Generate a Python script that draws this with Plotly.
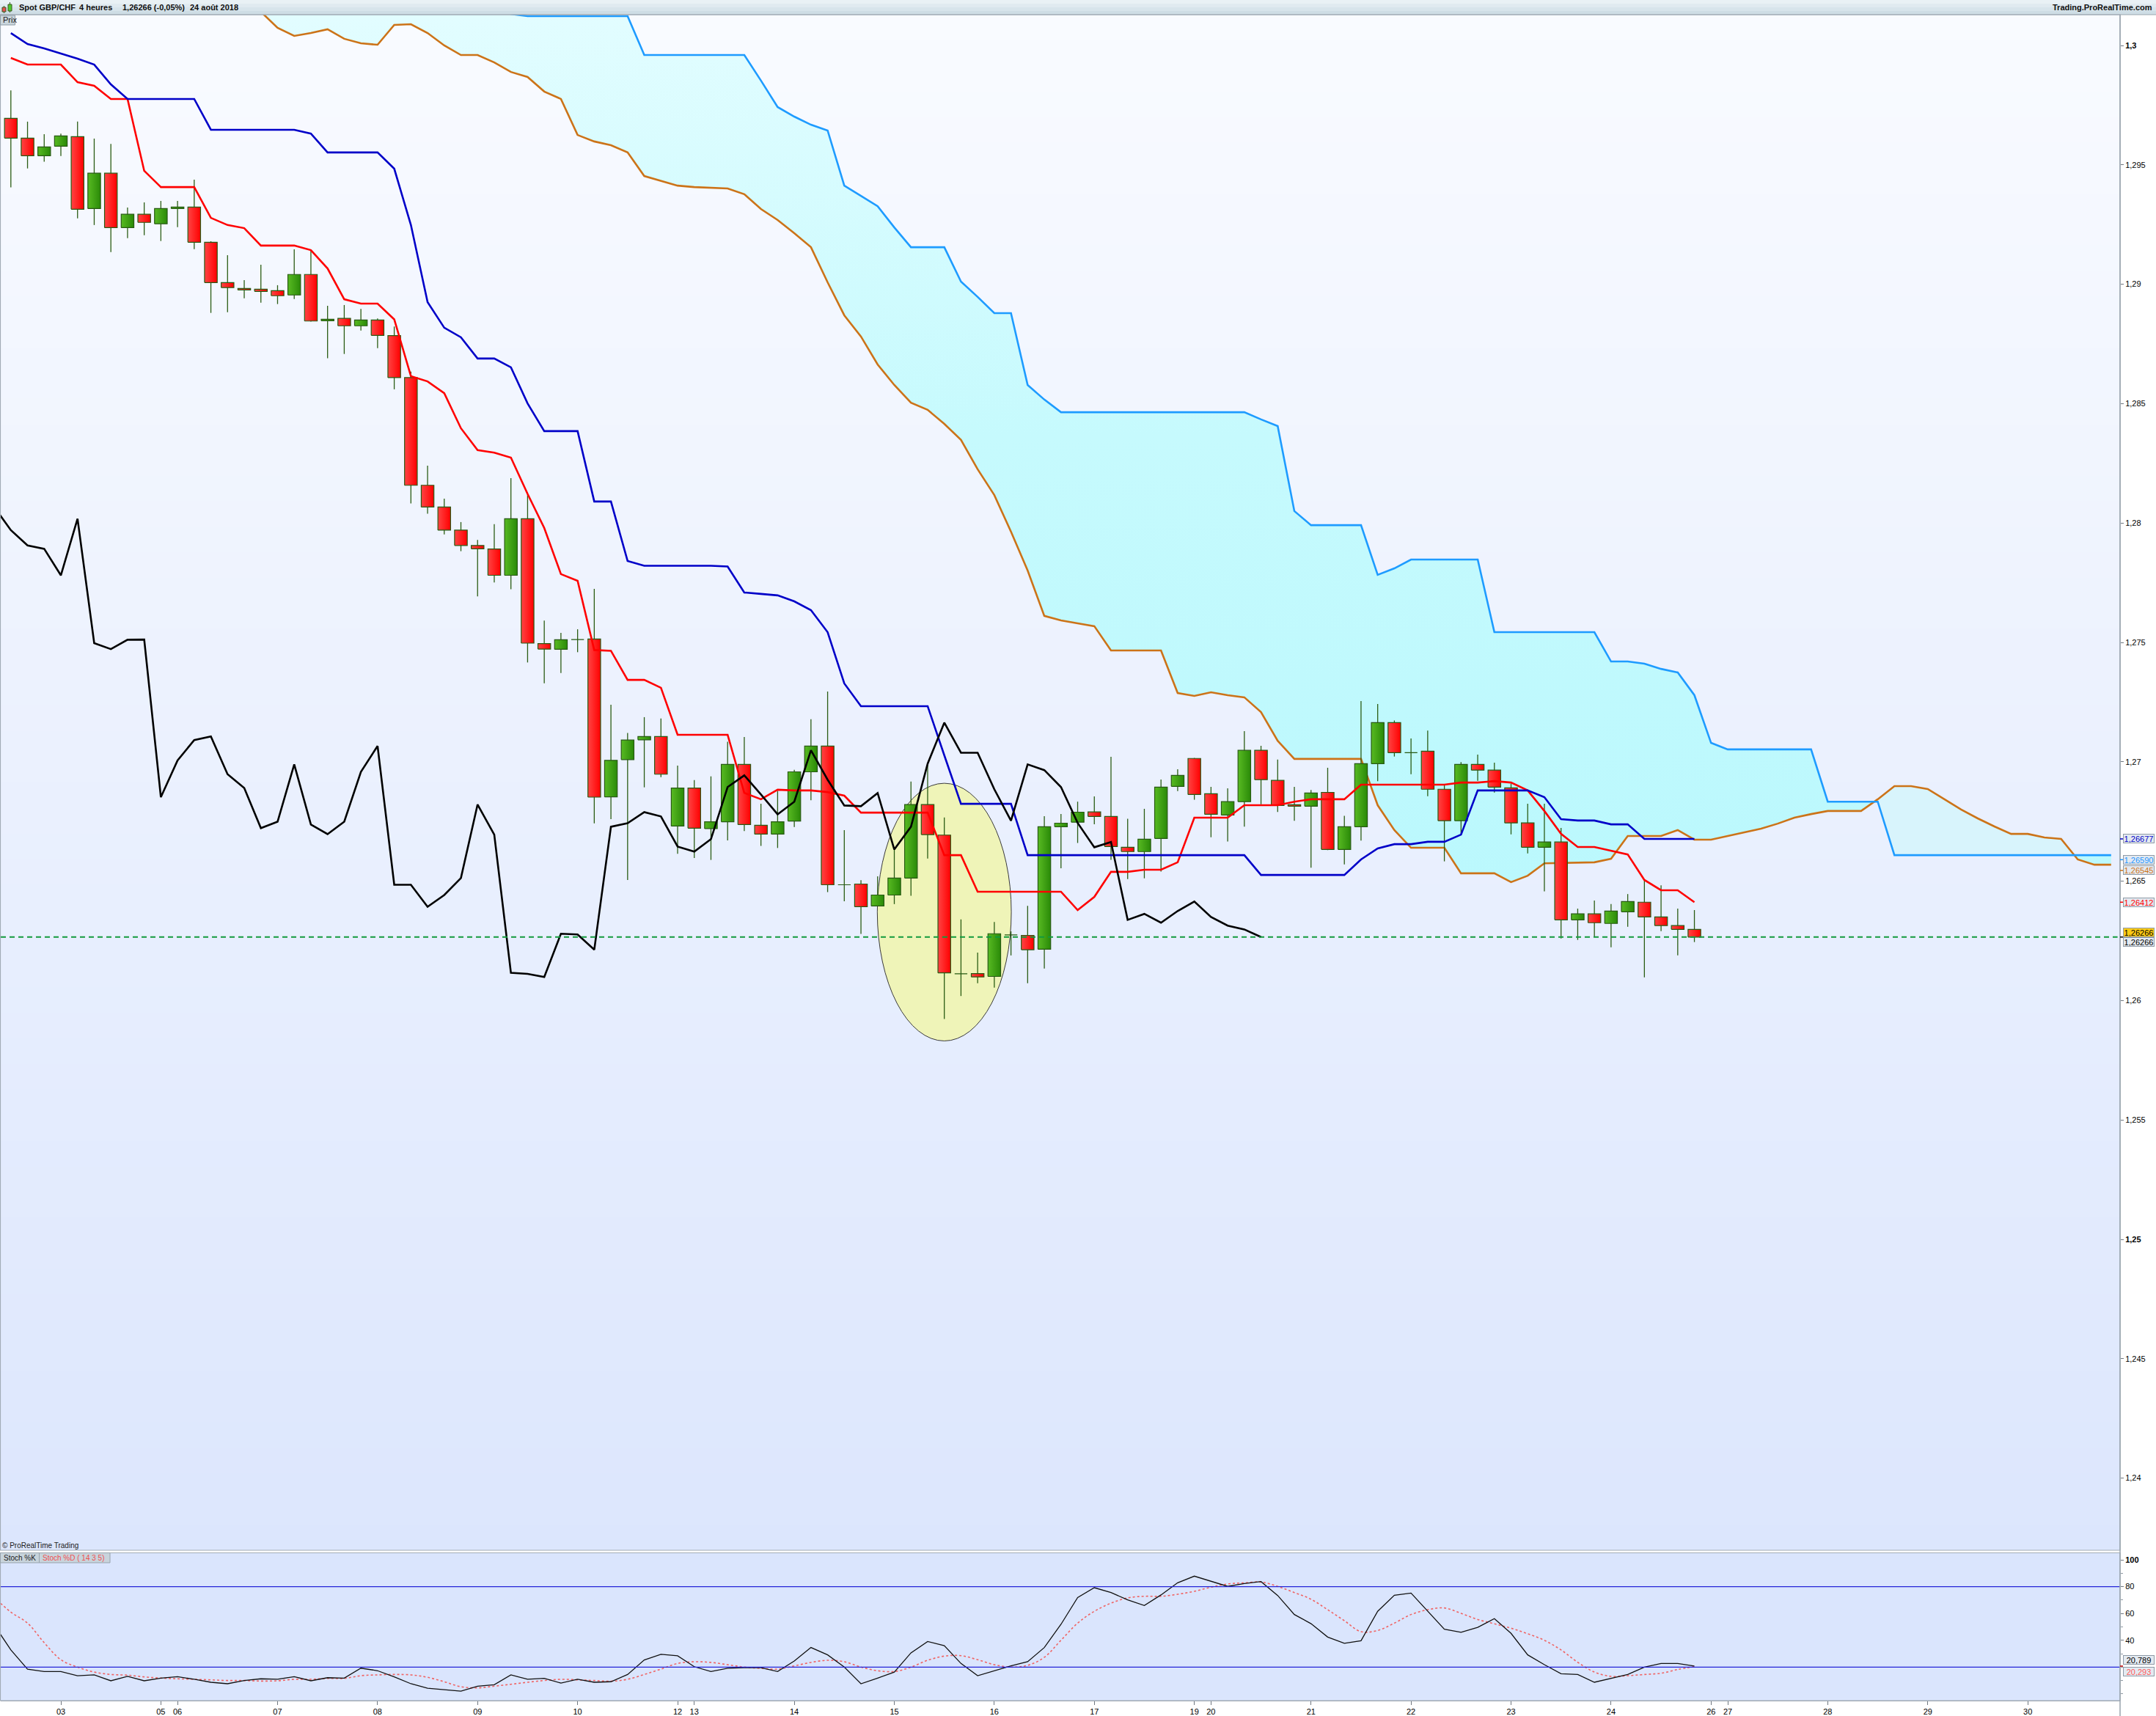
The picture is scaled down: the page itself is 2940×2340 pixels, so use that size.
import plotly.graph_objects as go

W, H = 2940, 2340

# ---------------- data ----------------
candle_idx = list(range(-3, 99))
opens = [
    1.29695, 1.29612, 1.29538, 1.29578, 1.29618, 1.29317, 1.29465, 1.29237, 1.29293, 1.29253,
    1.29317, 1.29323, 1.29176, 1.29007, 1.28982, 1.28979, 1.28973, 1.28955, 1.29041, 1.28847,
    1.28857, 1.28826, 1.28850, 1.28785, 1.28609, 1.28158, 1.28067, 1.27970, 1.27906, 1.27891,
    1.27781, 1.28018, 1.27495, 1.27471, 1.27514, 1.27514, 1.26853, 1.27009, 1.27092, 1.27106,
    1.26731, 1.26890, 1.26720, 1.26749, 1.26989, 1.26734, 1.26697, 1.26752, 1.26958, 1.27066,
    1.26487, 1.26488, 1.26396, 1.26442, 1.26513, 1.26821, 1.26693, 1.26113, 1.26113, 1.26101,
    1.26275, 1.26273, 1.26215, 1.26728, 1.26747, 1.26790, 1.26771, 1.26642, 1.26624, 1.26679,
    1.26897, 1.27014, 1.26866, 1.26777, 1.26833, 1.27048, 1.26922, 1.26820, 1.26814, 1.26872,
    1.26633, 1.26728, 1.26992, 1.27164, 1.27040, 1.27044, 1.26885, 1.26753, 1.26989, 1.26965,
    1.26891, 1.26744, 1.26642, 1.26664, 1.26338, 1.26363, 1.26323, 1.26372, 1.26412, 1.26350,
    1.26314, 1.26298]
highs = [
    1.29812, 1.29681, 1.29628, 1.29631, 1.29681, 1.29610, 1.29588, 1.29321, 1.29343, 1.29349,
    1.29349, 1.29438, 1.29180, 1.29122, 1.29017, 1.29082, 1.28996, 1.29146, 1.29143, 1.28910,
    1.28913, 1.28897, 1.28857, 1.28823, 1.28634, 1.28240, 1.28102, 1.28004, 1.27929, 1.27995,
    1.28188, 1.28117, 1.27591, 1.27540, 1.27555, 1.27724, 1.27239, 1.27121, 1.27187, 1.27181,
    1.26984, 1.26923, 1.26939, 1.27084, 1.27104, 1.26824, 1.26878, 1.26966, 1.27178, 1.27294,
    1.26714, 1.26504, 1.26520, 1.26634, 1.26917, 1.26992, 1.26767, 1.26340, 1.26201, 1.26329,
    1.26290, 1.26397, 1.26772, 1.26781, 1.26833, 1.26855, 1.27021, 1.26761, 1.26803, 1.26926,
    1.26969, 1.27016, 1.26895, 1.26889, 1.27128, 1.27067, 1.27009, 1.26895, 1.26882, 1.26975,
    1.26774, 1.27254, 1.27242, 1.27173, 1.27098, 1.27131, 1.26901, 1.26999, 1.27030, 1.26996,
    1.26909, 1.26824, 1.26824, 1.26723, 1.26385, 1.26419, 1.26404, 1.26446, 1.26503, 1.26483,
    1.26385, 1.26379]
lows = [
    1.29406, 1.29485, 1.29513, 1.29537, 1.29276, 1.29248, 1.29135, 1.29193, 1.29205, 1.29181,
    1.29239, 1.29147, 1.28880, 1.28883, 1.28941, 1.28923, 1.28917, 1.28938, 1.28844, 1.28690,
    1.28708, 1.28806, 1.28732, 1.28560, 1.28082, 1.28039, 1.27952, 1.27882, 1.27693, 1.27751,
    1.27723, 1.27416, 1.27329, 1.27372, 1.27459, 1.26742, 1.26760, 1.26505, 1.26893, 1.26936,
    1.26615, 1.26597, 1.26589, 1.26671, 1.26710, 1.26648, 1.26639, 1.26727, 1.26839, 1.26454,
    1.26416, 1.26279, 1.26396, 1.26404, 1.26439, 1.26595, 1.25923, 1.26019, 1.26073, 1.26054,
    1.26189, 1.26073, 1.26134, 1.26554, 1.26660, 1.26738, 1.26589, 1.26509, 1.26512, 1.26540,
    1.26877, 1.26841, 1.26684, 1.26666, 1.26728, 1.26822, 1.26790, 1.26753, 1.26556, 1.26630,
    1.26570, 1.26670, 1.26919, 1.27022, 1.26948, 1.26856, 1.26583, 1.26699, 1.26920, 1.26871,
    1.26696, 1.26616, 1.26457, 1.26260, 1.26254, 1.26267, 1.26223, 1.26309, 1.26097, 1.26291,
    1.26189, 1.26245]
closes = [
    1.29612, 1.29538, 1.29575, 1.29621, 1.29314, 1.29465, 1.29237, 1.29293, 1.29259, 1.29317,
    1.29323, 1.29176, 1.29007, 1.28986, 1.28976, 1.28970, 1.28952, 1.29041, 1.28846, 1.28853,
    1.28826, 1.28850, 1.28786, 1.28609, 1.28158, 1.28067, 1.27970, 1.27906, 1.27892, 1.27781,
    1.28018, 1.27497, 1.27472, 1.27511, 1.27512, 1.26852, 1.27006, 1.27091, 1.27106, 1.26948,
    1.26890, 1.26722, 1.26749, 1.26989, 1.26737, 1.26697, 1.26749, 1.26958, 1.27066, 1.26485,
    1.26485, 1.26393, 1.26442, 1.26513, 1.26821, 1.26695, 1.26116, 1.26112, 1.26099, 1.26280,
    1.26277, 1.26213, 1.26728, 1.26743, 1.26789, 1.26771, 1.26645, 1.26624, 1.26676, 1.26894,
    1.26943, 1.26863, 1.26780, 1.26833, 1.27048, 1.26925, 1.26817, 1.26814, 1.26869, 1.26633,
    1.26728, 1.26992, 1.27164, 1.27038, 1.27038, 1.26885, 1.26753, 1.26989, 1.26965, 1.26894,
    1.26744, 1.26642, 1.26664, 1.26338, 1.26363, 1.26326, 1.26375, 1.26415, 1.26350, 1.26314,
    1.26298, 1.26266]

line_idx = list(range(-3, 99))
tenkan = [
    1.29948, 1.29920, 1.29920, 1.29920, 1.29846, 1.29831, 1.29776, 1.29776, 1.29475, 1.29407,
    1.29407, 1.29407, 1.29278, 1.29248, 1.29235, 1.29162, 1.29162, 1.29162, 1.29143, 1.29066,
    1.28937, 1.28919, 1.28919, 1.28853, 1.28615, 1.28593, 1.28544, 1.28397, 1.28305, 1.28295,
    1.28274, 1.28122, 1.27979, 1.27786, 1.27758, 1.27468, 1.27465, 1.27343, 1.27343, 1.27310,
    1.27113, 1.27113, 1.27113, 1.27113, 1.26870, 1.26843, 1.26883, 1.26880, 1.26880, 1.26873,
    1.26858, 1.26787, 1.26787, 1.26787, 1.26787, 1.26787, 1.26609, 1.26609, 1.26456, 1.26456,
    1.26456, 1.26456, 1.26456, 1.26456, 1.26379, 1.26434, 1.26539, 1.26539, 1.26548, 1.26548,
    1.26579, 1.26766, 1.26766, 1.26766, 1.26818, 1.26818, 1.26818, 1.26833, 1.26843, 1.26843,
    1.26843, 1.26904, 1.26904, 1.26904, 1.26904, 1.26904, 1.26904, 1.26913, 1.26913, 1.26919,
    1.26913, 1.26880, 1.26794, 1.26698, 1.26643, 1.26643, 1.26628, 1.26612, 1.26505, 1.26462,
    1.26462, 1.26412]
kijun = [
    1.30052, 1.30006, 1.29988, 1.29966, 1.29945, 1.29920, 1.29837, 1.29776, 1.29776, 1.29776,
    1.29776, 1.29776, 1.29647, 1.29647, 1.29647, 1.29647, 1.29647, 1.29647, 1.29631, 1.29552,
    1.29552, 1.29552, 1.29552, 1.29484, 1.29248, 1.28925, 1.28818, 1.28778, 1.28689, 1.28689,
    1.28652, 1.28501, 1.28385, 1.28385, 1.28385, 1.28090, 1.28090, 1.27841, 1.27821, 1.27821,
    1.27821, 1.27821, 1.27821, 1.27818, 1.27709, 1.27703, 1.27697, 1.27672, 1.27635, 1.27543,
    1.27328, 1.27233, 1.27233, 1.27233, 1.27233, 1.27233, 1.27027, 1.26824, 1.26824, 1.26824,
    1.26824, 1.26609, 1.26609, 1.26609, 1.26609, 1.26609, 1.26609, 1.26609, 1.26609, 1.26609,
    1.26609, 1.26609, 1.26609, 1.26609, 1.26609, 1.26526, 1.26526, 1.26526, 1.26526, 1.26526,
    1.26526, 1.26591, 1.26637, 1.26655, 1.26655, 1.26665, 1.26665, 1.26695, 1.26880, 1.26880,
    1.26880, 1.26880, 1.26852, 1.26760, 1.26754, 1.26754, 1.26738, 1.26738, 1.26677, 1.26677,
    1.26677, 1.26677]

senkou_idx = list(range(11, 124))
senkou_a = [
    1.30200, 1.30141, 1.30074, 1.30040, 1.30052, 1.30068, 1.30028, 1.30009, 1.30003, 1.30086,
    1.30089, 1.30052, 1.30000, 1.29960, 1.29960, 1.29929, 1.29889, 1.29868, 1.29807, 1.29776,
    1.29625, 1.29598, 1.29582, 1.29552, 1.29453, 1.29432, 1.29413, 1.29407, 1.29404, 1.29401,
    1.29377, 1.29315, 1.29269, 1.29214, 1.29155, 1.29008, 1.28870, 1.28781, 1.28664, 1.28578,
    1.28504, 1.28474, 1.28415, 1.28348, 1.28225, 1.28117, 1.27964, 1.27801, 1.27611, 1.27592,
    1.27580, 1.27568, 1.27466, 1.27466, 1.27466, 1.27466, 1.27288, 1.27276, 1.27291, 1.27279,
    1.27270, 1.27208, 1.27088, 1.27012, 1.27012, 1.27012, 1.27012, 1.27012, 1.26818, 1.26714,
    1.26640, 1.26640, 1.26640, 1.26533, 1.26533, 1.26533, 1.26496, 1.26523, 1.26575, 1.26577,
    1.26579, 1.26579, 1.26594, 1.26689, 1.26689, 1.26689, 1.26714, 1.26674, 1.26674, 1.26689,
    1.26704, 1.26720, 1.26741, 1.26766, 1.26781, 1.26794, 1.26794, 1.26794, 1.26843, 1.26898,
    1.26898, 1.26886, 1.26843, 1.26800, 1.26763, 1.26729, 1.26698, 1.26698, 1.26683, 1.26677,
    1.26591, 1.26569, 1.26569]
senkou_b = [
    1.30400, 1.30400, 1.30400, 1.30400, 1.30400, 1.30400, 1.30400, 1.30400, 1.30400, 1.30400,
    1.30400, 1.30400, 1.30400, 1.30400, 1.30400, 1.30400, 1.30132, 1.30123, 1.30123, 1.30123,
    1.30123, 1.30123, 1.30123, 1.30123, 1.29960, 1.29960, 1.29960, 1.29960, 1.29960, 1.29960,
    1.29960, 1.29853, 1.29742, 1.29702, 1.29668, 1.29644, 1.29413, 1.29370, 1.29327, 1.29238,
    1.29155, 1.29155, 1.29155, 1.29011, 1.28947, 1.28879, 1.28879, 1.28578, 1.28517, 1.28464,
    1.28464, 1.28464, 1.28464, 1.28464, 1.28464, 1.28464, 1.28464, 1.28464, 1.28464, 1.28464,
    1.28464, 1.28434, 1.28406, 1.28050, 1.27991, 1.27991, 1.27991, 1.27991, 1.27783, 1.27810,
    1.27847, 1.27847, 1.27847, 1.27847, 1.27847, 1.27543, 1.27543, 1.27543, 1.27543, 1.27543,
    1.27543, 1.27543, 1.27420, 1.27420, 1.27411, 1.27389, 1.27374, 1.27279, 1.27079, 1.27052,
    1.27052, 1.27052, 1.27052, 1.27052, 1.27052, 1.26833, 1.26833, 1.26833, 1.26833, 1.26609,
    1.26609, 1.26609, 1.26609, 1.26609, 1.26609, 1.26609, 1.26609, 1.26609, 1.26609, 1.26609,
    1.26609, 1.26609, 1.26609]

stoch_idx = list(range(-4, 99))
stoch_k = [
    51.4, 32.8, 18.5, 16.7, 16.7, 13.6, 14.2, 9.8, 13.1, 9.8,
    11.8, 12.9, 10.9, 8.7, 7.6, 10.0, 11.3, 10.9, 12.9, 9.8,
    12.1, 11.8, 19.2, 17.3, 12.7, 7.6, 4.3, 3.2, 2.1, 5.8,
    6.9, 14.2, 10.9, 11.6, 8.1, 10.9, 8.7, 9.1, 14.5, 25.3,
    29.5, 28.4, 20.3, 16.7, 19.1, 19.6, 19.6, 16.7, 24.5, 34.6,
    29.1, 20.0, 7.6, 11.8, 16.3, 30.6, 39.1, 36.0, 22.7, 13.6,
    17.3, 20.9, 24.0, 34.6, 51.9, 71.9, 79.2, 75.6, 70.1, 65.9,
    73.8, 82.9, 87.8, 83.8, 80.2, 82.3, 83.8, 73.4, 59.2, 52.4,
    42.4, 37.7, 39.7, 61.6, 73.6, 75.2, 61.6, 48.2, 45.9, 49.6,
    56.1, 45.2, 29.1, 21.8, 15.1, 14.5, 8.7, 11.8, 14.5, 20.0,
    22.7, 22.7, 20.8]
stoch_d = [
    72.0, 61.0, 52.8, 38.2, 25.5, 20.0, 16.3, 14.5, 14.0, 12.7,
    11.8, 11.3, 10.9, 10.5, 10.0, 10.0, 9.6, 9.8, 10.9, 10.9,
    11.6, 11.6, 13.6, 14.2, 14.5, 14.2, 12.4, 9.1, 5.4, 4.5,
    5.8, 7.2, 8.7, 10.0, 10.9, 10.5, 10.0, 9.5, 10.9, 14.5,
    18.5, 22.7, 24.0, 23.5, 21.8, 20.0, 19.1, 18.5, 20.9, 23.5,
    25.1, 24.0, 20.0, 17.3, 16.7, 20.0, 25.1, 28.2, 28.5, 25.5,
    21.8, 20.0, 21.3, 27.3, 40.0, 52.8, 61.6, 67.7, 71.6, 72.8,
    72.8, 74.3, 76.5, 79.6, 82.0, 82.8, 83.4, 80.2, 75.6, 70.6,
    62.8, 54.6, 46.4, 47.3, 52.8, 59.2, 62.8, 64.1, 60.1, 55.5,
    52.3, 49.0, 44.9, 40.0, 32.8, 23.6, 16.3, 13.1, 13.6, 14.5,
    15.4, 18.2, 20.3]

day_ticks = [0, 6, 7, 13, 19, 25, 31, 37, 38, 44, 50, 56, 62, 68, 69, 75, 81, 87, 93, 99, 100, 106, 112, 118]
day_labels = ["03", "05", "06", "07", "08", "09", "10", "12", "13", "14", "15", "16", "17", "19", "20",
              "21", "22", "23", "24", "26", "27", "28", "29", "30"]
price_ticks = [1.24, 1.245, 1.25, 1.255, 1.26, 1.265, 1.27, 1.275, 1.28, 1.285, 1.29, 1.295, 1.30]
bold_price_ticks = [1.25, 1.30]
stoch_ticks = [40, 60, 80, 100]
stoch_levels = [20, 80]
chikou_shift = 26

price_value_labels = [
    (1.26677, "#0000c8", "#e4eaf1"),
    (1.26590, "#1e96ff", "#e4eaf1"),
    (1.26545, "#cc7318", "#e4eaf1"),
    (1.26412, "#ff0000", "#e4eaf1"),
]
close_value = 1.26266
stoch_value_labels = [(20.789, "#000000"), (20.293, "#ff5a5a")]

ellipse_x = (48.98, 57.02)
ellipse_y = (1.25831, 1.26910)

# ---------------- geometry (pixel calibration) ----------------
PLOT_L, PLOT_R = 1, 2891
MAIN_T, MAIN_B = 20, 2114
STO_T, STO_B = 2117.5, 2319
BAR_PX, X0_PX = 22.73, 83.0
x_lo = (PLOT_L - X0_PX) / BAR_PX
x_hi = (PLOT_R - X0_PX) / BAR_PX
P_PER_PX = 0.005 / 162.8
y_lo = 1.30 - (MAIN_B - 62) * P_PER_PX
y_hi = 1.30 + (62 - MAIN_T) * P_PER_PX
S_PER_PX = 1 / 1.829
s_lo = 100 - (STO_B - 2127) * S_PER_PX
s_hi = 100 + (2127 - STO_T) * S_PER_PX
BODY_HALF = 0.38


def px(x):
    return x / W


def py(y):
    return 1 - y / H


FONT = "Arial, Liberation Sans, sans-serif"
shapes = []
annotations = []

# background gradient of main panel
N = 60
top_c = (249, 251, 255)
bot_c = (220, 230, 253)
for k in range(N):
    t = (k + 0.5) / N
    c = tuple(int(round(top_c[j] + (bot_c[j] - top_c[j]) * t)) for j in range(3))
    y0 = MAIN_T + (MAIN_B - MAIN_T) * k / N
    y1 = MAIN_T + (MAIN_B - MAIN_T) * (k + 1) / N + 1
    shapes.append(dict(type="rect", xref="paper", yref="paper", x0=px(PLOT_L), x1=px(PLOT_R),
                       y0=py(min(y1, MAIN_B)), y1=py(y0), fillcolor="rgb(%d,%d,%d)" % c,
                       line=dict(width=0), layer="below"))
shapes.append(dict(type="rect", xref="paper", yref="paper", x0=px(PLOT_L), x1=px(PLOT_R),
                   y0=py(STO_B), y1=py(STO_T), fillcolor="#dae5fd", line=dict(width=0), layer="below"))

# header bar gradient
hdr = [(233, 241, 245), (224, 234, 240), (215, 228, 235), (206, 221, 229)]
for k, c in enumerate(hdr):
    shapes.append(dict(type="rect", xref="paper", yref="paper", x0=0, x1=1,
                       y0=py(5 * (k + 1)), y1=py(5 * k), fillcolor="rgb(%d,%d,%d)" % c,
                       line=dict(width=0), layer="below"))
shapes.append(dict(type="line", xref="paper", yref="paper", x0=0, x1=1, y0=py(20), y1=py(20),
                   line=dict(color="#9aa6ae", width=1)))

# ellipse highlight
shapes.append(dict(type="circle", xref="x", yref="y", x0=ellipse_x[0], x1=ellipse_x[1],
                   y0=ellipse_y[0], y1=ellipse_y[1], fillcolor="#eff4b8",
                   line=dict(color="#3a3a3a", width=1), layer="below"))

for lv in stoch_levels:
    shapes.append(dict(type="line", xref="paper", yref="y2", x0=px(PLOT_L), x1=px(PLOT_R), y0=lv, y1=lv,
                       line=dict(color="#2424d8", width=1.3)))

shapes.append(dict(type="rect", xref="paper", yref="paper", x0=px(0.5), x1=px(PLOT_R),
                   y0=py(MAIN_B), y1=py(MAIN_T), line=dict(color="#a2acb6", width=1.2)))
shapes.append(dict(type="rect", xref="paper", yref="paper", x0=px(0.5), x1=px(PLOT_R),
                   y0=py(STO_B), y1=py(STO_T), line=dict(color="#a2acb6", width=1.2)))
shapes.append(dict(type="line", xref="paper", yref="paper", x0=px(PLOT_R), x1=px(PLOT_R),
                   y0=py(H), y1=py(MAIN_T), line=dict(color="#9aa4ae", width=1.5)))

fig = go.Figure()


# ---------------- cloud (split where the senkou lines cross) ----------------
def cloud_regions(xs, a, b):
    regions = []
    cx, ca, cb = [xs[0]], [a[0]], [b[0]]
    sign = b[0] >= a[0]
    for k in range(1, len(xs)):
        s = b[k] >= a[k]
        if s != sign:
            d0 = b[k - 1] - a[k - 1]
            d1 = b[k] - a[k]
            t = d0 / (d0 - d1)
            xc = xs[k - 1] + t * (xs[k] - xs[k - 1])
            yc = a[k - 1] + t * (a[k] - a[k - 1])
            cx.append(xc); ca.append(yc); cb.append(yc)
            regions.append((sign, cx, ca, cb))
            cx, ca, cb = [xc], [yc], [yc]
            sign = s
        cx.append(xs[k]); ca.append(a[k]); cb.append(b[k])
    regions.append((sign, cx, ca, cb))
    return regions


strong_x, strong_y, weak_x, weak_y = [], [], [], []
for sign, cx, ca, cb in cloud_regions(senkou_idx, senkou_a, senkou_b):
    xs = list(cx) + list(cx[::-1]) + [cx[0], None]
    ys = list(cb) + list(ca[::-1]) + [cb[0], None]
    if sign:
        strong_x += xs; strong_y += ys
    else:
        weak_x += xs; weak_y += ys

fig.add_trace(go.Scatter(x=strong_x, y=strong_y, mode="lines", line=dict(width=0), fill="toself",
                         fillcolor="#c2f9fe",
                         fillgradient=dict(type="vertical", start=1.262, stop=y_hi,
                                           colorscale=[[0, "#b9f8fd"], [0.55, "#c6fafd"], [1, "#e2fdff"]]),
                         hoverinfo="skip"))
fig.add_trace(go.Scatter(x=weak_x, y=weak_y, mode="lines", line=dict(width=0), fill="toself",
                         fillcolor="#d8f4fc", hoverinfo="skip"))

fig.add_trace(go.Scatter(x=senkou_idx, y=senkou_a, mode="lines",
                         line=dict(color="#cc7318", width=2.6), hoverinfo="skip"))
fig.add_trace(go.Scatter(x=senkou_idx, y=senkou_b, mode="lines",
                         line=dict(color="#1e9bff", width=2.6), hoverinfo="skip"))

# ---------------- candles ----------------
wx, wy = [], []
for i, h, l in zip(candle_idx, highs, lows):
    wx += [i, i, None]
    wy += [l, h, None]
fig.add_trace(go.Scatter(x=wx, y=wy, mode="lines", line=dict(color="#2b5d14", width=1.3), hoverinfo="skip"))

for i, o, c in zip(candle_idx, opens, closes):
    lo, hi = min(o, c), max(o, c)
    up = c >= o
    scale = [[0, "#58ba22"], [1, "#2a8a08"]] if up else [[0, "#ff4444"], [1, "#ff0000"]]
    fig.add_trace(go.Scatter(
        x=[i - BODY_HALF, i + BODY_HALF, i + BODY_HALF, i - BODY_HALF, i - BODY_HALF],
        y=[lo, lo, hi, hi, lo], mode="lines", fill="toself",
        fillcolor="#3c9e12" if up else "#ff1c1c",
        fillgradient=dict(type="horizontal", start=i - BODY_HALF, stop=i + BODY_HALF, colorscale=scale),
        line=dict(color="#275a12", width=1.2), hoverinfo="skip"))

# ---------------- ichimoku lines ----------------
fig.add_trace(go.Scatter(x=line_idx, y=tenkan, mode="lines", line=dict(color="#ff0000", width=2.6),
                         hoverinfo="skip"))
fig.add_trace(go.Scatter(x=line_idx, y=kijun, mode="lines", line=dict(color="#0000c8", width=2.6),
                         hoverinfo="skip"))
chikou_x = [i - chikou_shift for i in candle_idx if i - chikou_shift >= -4]
chikou_y = [c for i, c in zip(candle_idx, closes) if i - chikou_shift >= -4]
fig.add_trace(go.Scatter(x=chikou_x, y=chikou_y, mode="lines", line=dict(color="#000000", width=2.6),
                         hoverinfo="skip"))

fig.add_trace(go.Scatter(x=[x_lo, x_hi - 0.15], y=[closes[-1], closes[-1]], mode="lines",
                         line=dict(color="#129a3c", width=2, dash="7px,5px"), hoverinfo="skip"))

# ---------------- stochastic ----------------
fig.add_trace(go.Scatter(x=stoch_idx, y=stoch_d, yaxis="y2", mode="lines",
                         line=dict(color="#f06464", width=1.6, dash="dot", shape="spline"), hoverinfo="skip"))
fig.add_trace(go.Scatter(x=stoch_idx, y=stoch_k, yaxis="y2", mode="lines",
                         line=dict(color="#111111", width=1.3), hoverinfo="skip"))


# ---------------- text ----------------
def fmt(v, nd):
    return ("%.*f" % (nd, v)).replace(".", ",")


price_ticktext = []
for v in price_ticks:
    s = ("%.3f" % v).rstrip("0").rstrip(".").replace(".", ",")
    price_ticktext.append("<b>%s</b>" % s if v in bold_price_ticks else s)

for txt, x in [("Spot GBP/CHF", 23.7), ("4 heures", 106), ("1,26266 (-0,05%)", 164.6), ("24 août 2018", 257)]:
    annotations.append(dict(text="<b>%s</b>" % txt, xref="paper", yref="paper", x=px(x), y=py(10.5),
                            xanchor="left", yanchor="middle", showarrow=False,
                            font=dict(family=FONT, size=11, color="#101010")))
annotations.append(dict(text="<b>Trading.ProRealTime.com</b>", xref="paper", yref="paper", x=px(2937),
                        y=py(10.5), xanchor="right", yanchor="middle", showarrow=False,
                        font=dict(family=FONT, size=11, color="#101010")))
shapes += [
    dict(type="line", xref="paper", yref="paper", x0=px(5.5), x1=px(5.5), y0=py(18), y1=py(8),
         line=dict(color="#3a5a20", width=1)),
    dict(type="rect", xref="paper", yref="paper", x0=px(3), x1=px(8), y0=py(16), y1=py(10),
         fillcolor="#e85050", line=dict(color="#3a5a20", width=1)),
    dict(type="line", xref="paper", yref="paper", x0=px(13.5), x1=px(13.5), y0=py(17), y1=py(3),
         line=dict(color="#3a5a20", width=1)),
    dict(type="rect", xref="paper", yref="paper", x0=px(11), x1=px(16), y0=py(15), y1=py(6),
         fillcolor="#50c830", line=dict(color="#3a5a20", width=1)),
]
shapes.append(dict(type="rect", xref="paper", yref="paper", x0=px(0.5), x1=px(20.5), y0=py(34), y1=py(21),
                   fillcolor="#cad6dd", line=dict(color="#8e9ca6", width=1)))
annotations.append(dict(text="Prix", xref="paper", yref="paper", x=px(2), y=py(27.5), xanchor="left",
                        yanchor="middle", showarrow=False, font=dict(family=FONT, size=11, color="#202020")))
annotations.append(dict(text="© ProRealTime Trading", xref="paper", yref="paper", x=px(1), y=py(2107.5),
                        xanchor="left", yanchor="middle", showarrow=False,
                        font=dict(family=FONT, size=10, color="#202020")))
shapes.append(dict(type="rect", xref="paper", yref="paper", x0=px(0.5), x1=px(150), y0=py(2131), y1=py(2117.5),
                   fillcolor="#c8d4dc", line=dict(color="#98a4ae", width=1)))
shapes.append(dict(type="line", xref="paper", yref="paper", x0=px(53.5), x1=px(53.5), y0=py(2131), y1=py(2118),
                   line=dict(color="#98a4ae", width=1)))
annotations.append(dict(text="Stoch %K", xref="paper", yref="paper", x=px(2.5), y=py(2124.5), xanchor="left",
                        yanchor="middle", showarrow=False, font=dict(family=FONT, size=10, color="#202020")))
annotations.append(dict(text="Stoch %D ( 14 3 5)", xref="paper", yref="paper", x=px(56), y=py(2124.5),
                        xanchor="left", yanchor="middle", showarrow=False,
                        font=dict(family=FONT, size=10, color="#f05050")))

for v, col, bg in price_value_labels:
    annotations.append(dict(text=fmt(v, 5), xref="paper", yref="y", x=px(2916), y=v, xanchor="center",
                            yanchor="middle", showarrow=False, bgcolor=bg, bordercolor="#8e9aa6",
                            borderwidth=1, borderpad=0, width=41, height=11,
                            font=dict(family=FONT, size=11, color=col)))
    shapes.append(dict(type="line", xref="paper", yref="y", x0=px(2891), x1=px(2895), y0=v, y1=v,
                       line=dict(color=col, width=1.5)))
annotations.append(dict(text=fmt(close_value, 5), xref="paper", yref="y", x=px(2916), y=close_value,
                        yshift=6.5, xanchor="center", yanchor="middle", showarrow=False, bgcolor="#ffcc14",
                        bordercolor="#8e9aa6", borderwidth=1, borderpad=0, width=41, height=11,
                        font=dict(family=FONT, size=11, color="#000000")))
annotations.append(dict(text=fmt(close_value, 5), xref="paper", yref="y", x=px(2916), y=close_value,
                        yshift=-7, xanchor="center", yanchor="middle", showarrow=False, bgcolor="#e4eaf1",
                        bordercolor="#8e9aa6", borderwidth=1, borderpad=0, width=41, height=11,
                        font=dict(family=FONT, size=11, color="#000000")))
shapes.append(dict(type="line", xref="paper", yref="y", x0=px(2891), x1=px(2895), y0=close_value,
                   y1=close_value, line=dict(color="#000000", width=1.5)))
for (v, col), shift in zip(stoch_value_labels, [8, -6.5]):
    annotations.append(dict(text=fmt(v, 3), xref="paper", yref="y2", x=px(2916), y=v, yshift=shift,
                            xanchor="center", yanchor="middle", showarrow=False, bgcolor="#e4eaf1",
                            bordercolor="#8e9aa6", borderwidth=1, borderpad=0, width=41, height=11,
                            font=dict(family=FONT, size=11, color=col)))
shapes.append(dict(type="line", xref="paper", yref="y2", x0=px(2891), x1=px(2895), y0=stoch_value_labels[0][0],
                   y1=stoch_value_labels[0][0], line=dict(color="#c00000", width=1.5)))

# ---------------- layout ----------------
fig.update_layout(
    width=W, height=H, margin=dict(l=0, r=0, t=0, b=0),
    paper_bgcolor="#ffffff", plot_bgcolor="rgba(0,0,0,0)",
    showlegend=False, hovermode=False,
    font=dict(family=FONT, size=11, color="#000000"),
    xaxis=dict(domain=[px(PLOT_L), px(PLOT_R)], range=[x_lo, x_hi], anchor="y2",
               tickmode="array", tickvals=day_ticks, ticktext=day_labels,
               ticks="outside", ticklen=5, tickcolor="#707880", showgrid=False, zeroline=False,
               showline=True, linecolor="#9aa4ae", linewidth=1.2,
               tickfont=dict(family=FONT, size=11, color="#000000")),
    yaxis=dict(domain=[py(MAIN_B), py(MAIN_T)], range=[y_lo, y_hi], side="right", anchor="x",
               tickmode="array", tickvals=price_ticks, ticktext=price_ticktext,
               ticks="outside", ticklen=4, tickcolor="#707880", showgrid=False, zeroline=False,
               showline=False, tickfont=dict(family=FONT, size=11, color="#000000")),
    yaxis2=dict(domain=[py(STO_B), py(STO_T)], range=[s_lo, s_hi], side="right", anchor="x",
                tickmode="array", tickvals=stoch_ticks, ticktext=["40", "60", "80", "<b>100</b>"],
                ticks="outside", ticklen=4, tickcolor="#707880", showgrid=False, zeroline=False,
                showline=False, tickfont=dict(family=FONT, size=11, color="#000000"),
                minor=dict(dtick=10, tick0=0, ticks="outside", ticklen=3, tickcolor="#909aa4")),
    shapes=shapes, annotations=annotations,
)

fig.write_html("out.html", config={"displayModeBar": False},
               post_script="document.body.style.margin='0px';document.body.style.overflow='hidden';")
